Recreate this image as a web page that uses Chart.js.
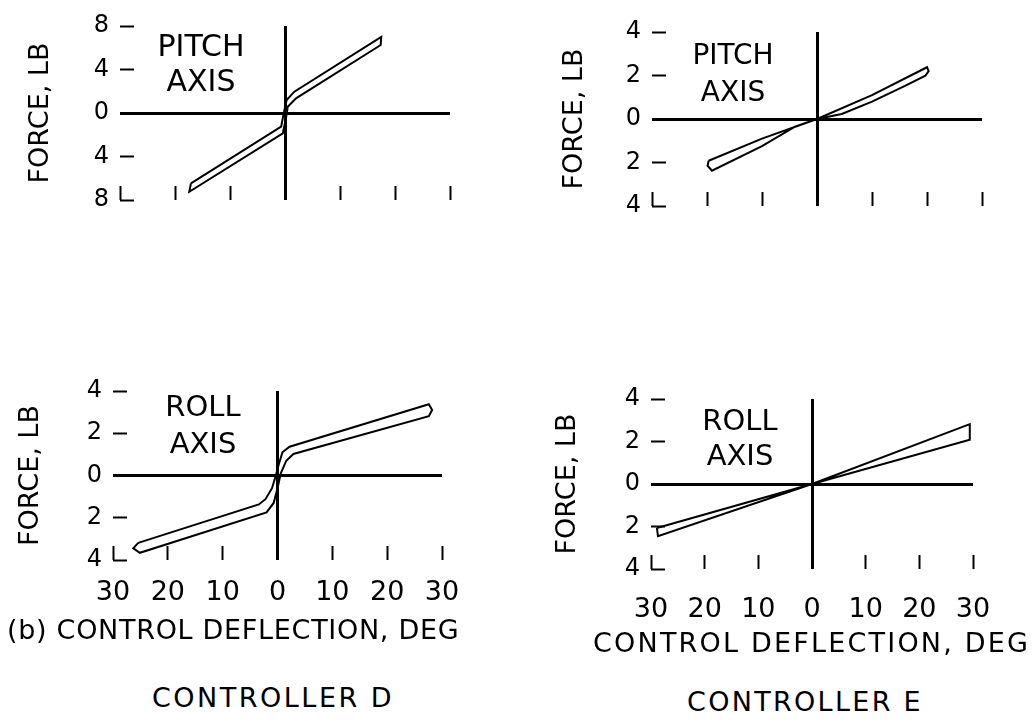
<!DOCTYPE html>
<html>
<head>
<meta charset="utf-8">
<script src="https://cdn.jsdelivr.net/npm/chart.js@4.4.1/dist/chart.umd.min.js"></script>
<style>
  body { margin: 0; width: 1034px; height: 725px; position: relative; overflow: hidden;
         background: #fff; color: #000; font-family: "DejaVu Sans", sans-serif; }
  canvas { position: absolute; }
  .lbl { position: absolute; white-space: nowrap; }
  .axisname { text-align: center; }
</style>
</head>
<body>
<canvas id="dPitch" width="460" height="214" style="left:20px;top:6px"></canvas>
<canvas id="ePitch" width="460" height="214" style="left:552px;top:12px"></canvas>
<canvas id="dRoll" width="459" height="274" style="left:13px;top:371px"></canvas>
<canvas id="eRoll" width="452" height="280" style="left:551px;top:379px"></canvas>

<div class="lbl axisname" style="left:141px;top:28px;width:120px;font-size:30px;line-height:35px">PITCH<br>AXIS</div>
<div class="lbl axisname" style="left:673px;top:36px;width:120px;font-size:28px;line-height:37px">PITCH<br>AXIS</div>
<div class="lbl axisname" style="left:143px;top:388px;width:120px;font-size:29px;line-height:37px">ROLL<br>AXIS</div>
<div class="lbl axisname" style="left:680px;top:403px;width:120px;font-size:29px;line-height:35px">ROLL<br>AXIS</div>

<div class="lbl" style="left:7px;top:614px;font-size:27px;line-height:32px;letter-spacing:0.7px">(b) CONTROL DEFLECTION, DEG</div>
<div class="lbl" style="left:593px;top:627px;font-size:27px;line-height:32px;letter-spacing:2.2px">CONTROL DEFLECTION, DEG</div>
<div class="lbl" style="left:152px;top:682px;font-size:27px;line-height:32px;letter-spacing:2.5px">CONTROLLER D</div>
<div class="lbl" style="left:687px;top:686px;font-size:27px;line-height:32px;letter-spacing:2.3px">CONTROLLER E</div>

<script>
// tick positions (labels shown as absolute values, as on the original)
const xTicks = [-30, -20, -10, 0, 10, 20, 30];
const yTicks8 = [-8, -4, 0, 4, 8];
const yTicks4 = [-4, -2, 0, 2, 4];

// force–deflection loops, traced round the outline (deg, lb)
const dPitchX = [-17.1, -0.7, -0.3, 0.3, 1.7, 17.5, 17.4, 2.0, 0.5, 0.2, -0.4, -17.4, -17.1];
const dPitchY = [-6.47, -1.26, -0.2, 1.2, 1.96, 7.0, 6.25, 1.35, 0.58, -0.4, -1.87, -7.24, -6.47];

const ePitchX = [-19.7, -10, 0, 10, 20, 20.3, 19.7, 16, 10, 4.5, 0, -4, -10, -19.1, -19.9, -19.7];
const ePitchY = [-1.92, -0.9, 0, 1.1, 2.38, 2.2, 1.99, 1.52, 0.8, 0.23, 0, -0.35, -1.25, -2.38, -2.15, -1.92];

const dRollX = [-25.4, -3.4, -2.2, -1.0, -0.3, 0.2, 0.9, 2.2, 27.6, 28.2, 27.6, 2.9, 1.6, 0.6, 0, -0.7, -2.0, -25.1, -26.3, -25.4];
const dRollY = [-3.19, -1.37, -1.12, -0.6, 0, 0.5, 1.1, 1.36, 3.37, 3.1, 2.81, 1.02, 0.7, 0.1, -0.6, -1.3, -1.75, -3.66, -3.45, -3.19];

const eRollX = [-28.9, 0, 29.4, 29.4, 0, -28.7, -28.9];
const eRollY = [-2.07, 0, 2.82, 2.08, 0, -2.46, -2.07];

const FONT = '"DejaVu Sans", sans-serif';
const zeroLine = c => (c.tick && c.tick.value === 0 ? '#000' : 'rgba(0,0,0,0)');

function panel(id, o) {
  const pts = o.xs.map((x, i) => ({ x, y: o.ys[i] }));
  return new Chart(document.getElementById(id), {
    type: 'scatter',
    data: {
      datasets: [{
        data: pts, showLine: true, borderColor: '#000', borderWidth: 2,
        pointRadius: 0, fill: false, tension: 0
      }]
    },
    options: {
      responsive: false, animation: false, events: [],
      layout: { padding: { top: 20, right: 30, left: 0, bottom: 0 } },
      plugins: { legend: { display: false }, tooltip: { enabled: false } },
      scales: {
        x: {
          type: 'linear', min: -30, max: 30,
          afterBuildTicks: s => { s.ticks = xTicks.map(v => ({ value: v })); },
          afterFit: s => { s.height = o.xH; s.paddingLeft = 0; s.paddingRight = 0; },
          border: { display: false },
          grid: { color: zeroLine, lineWidth: 3, drawTicks: true, tickLength: -14, tickColor: '#000', tickWidth: 2 },
          ticks: {
            display: o.xLabels, color: '#000', padding: o.xPad, autoSkip: false, maxRotation: 0,
            font: { family: FONT, size: 27 }, callback: v => Math.abs(v)
          }
        },
        y: {
          type: 'linear', min: -o.yMax, max: o.yMax,
          afterBuildTicks: s => { s.ticks = o.yTicks.map(v => ({ value: v })); },
          // fixed axis box; drop the label overhang so the plot keeps its height
          afterFit: s => { s.width = 100; s.paddingTop = 0; s.paddingBottom = 0; },
          border: { display: false },
          grid: { color: zeroLine, lineWidth: 3, drawTicks: true, tickLength: -14, tickColor: '#000', tickWidth: 2 },
          ticks: {
            color: '#000', padding: 25, autoSkip: false,
            font: { family: FONT, size: 24 }, callback: v => Math.abs(v)
          },
          title: {
            display: true, text: 'FORCE, LB', color: '#000',
            font: { family: FONT, size: 27 }, padding: { top: o.tPad, bottom: 0 }
          }
        }
      }
    }
  });
}

panel('dPitch', { xs: dPitchX, ys: dPitchY, yMax: 8, yTicks: yTicks8, xLabels: false, xH: 20, xPad: 0, tPad: 5 });
panel('ePitch', { xs: ePitchX, ys: ePitchY, yMax: 4, yTicks: yTicks4, xLabels: false, xH: 20, xPad: 0, tPad: 7 });
panel('dRoll', { xs: dRollX, ys: dRollY, yMax: 4, yTicks: yTicks4, xLabels: true, xH: 85, xPad: 31, tPad: 2 });
panel('eRoll', { xs: eRollX, ys: eRollY, yMax: 4, yTicks: yTicks4, xLabels: true, xH: 90, xPad: 39, tPad: 1 });
</script>
</body>
</html>
